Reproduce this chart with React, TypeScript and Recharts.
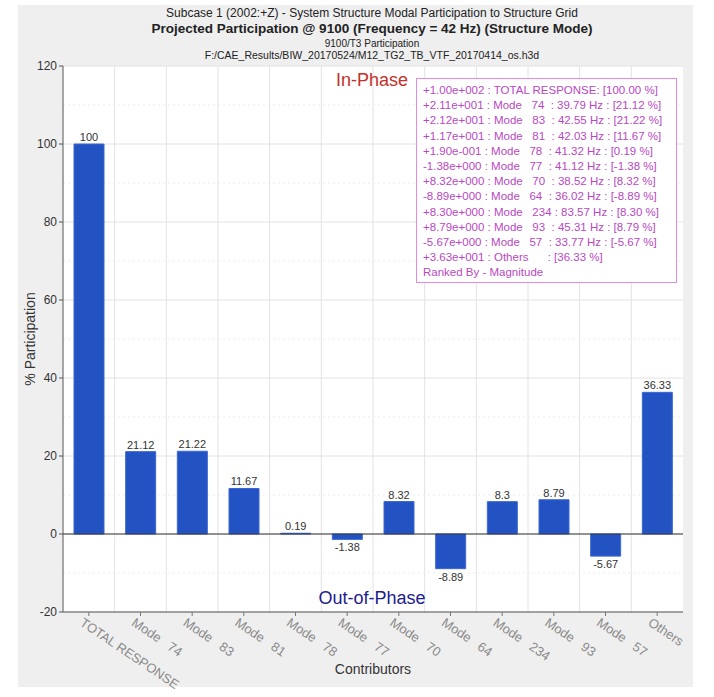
import React from "react";
import {
  BarChart,
  Bar,
  XAxis,
  YAxis,
  CartesianGrid,
  ReferenceLine,
  LabelList,
} from "recharts";

const modes = [74, 83, 81, 78, 77, 70, 64, 234, 93, 57];
const frequencies = [39.79, 42.55, 42.03, 41.32, 41.12, 38.52, 36.02, 83.57, 45.31, 33.77];
const participation = [100, 21.12, 21.22, 11.67, 0.19, -1.38, 8.32, -8.89, 8.3, 8.79, -5.67, 36.33];
const categories = ["TOTAL RESPONSE", ...modes.map((m) => `Mode   ${m}`), "Others"];
const yTicks = [-20, 0, 20, 40, 60, 80, 100, 120];
const minorTicks = [-10, 10, 30, 50, 70, 90, 110];
const Y_MIN = -20;
const Y_MAX = 120;

const titleLines = [
  "Subcase 1 (2002:+Z) - System Structure Modal Participation to Structure Grid",
  "Projected Participation @ 9100 (Frequency = 42 Hz) (Structure Mode)",
  "9100/T3 Participation",
  "F:/CAE_Results/BIW_20170524/M12_TG2_TB_VTF_20170414_os.h3d",
];

const data = categories.map((name, i) => ({ name, value: participation[i] }));

// +2.11e+001 style
const sci = (v: number) => {
  const sign = v < 0 ? "-" : "+";
  const a = Math.abs(v);
  let e = Math.floor(Math.log10(a));
  let m = a / Math.pow(10, e);
  if (m.toFixed(2) === "10.00") {
    m /= 10;
    e++;
  }
  return `${sign}${m.toFixed(2)}e${e < 0 ? "-" : "+"}${String(Math.abs(e)).padStart(3, "0")}`;
};

const legendLines = [
  `${sci(participation[0])} : TOTAL RESPONSE: [${participation[0].toFixed(2)} %]`,
  ...modes.map(
    (m, i) =>
      `${sci(participation[i + 1])} : Mode   ${String(m).padEnd(3, " ")} : ${frequencies[i].toFixed(2)} Hz : [${participation[i + 1].toFixed(2)} %]`
  ),
  `${sci(participation[11])} : Others      : [${participation[11].toFixed(2)} %]`,
  "Ranked By - Magnitude",
];

const FONT = "'Liberation Sans', Arial, sans-serif";

const XTick = (props: any) => {
  const { x, y, payload } = props;
  return (
    <g transform={`translate(${x - 4},${y - 2})`}>
      <text
        x={0}
        y={0}
        dy="0.8em"
        transform="rotate(34)"
        textAnchor="start"
        fill="#8a8a8a"
        fontSize={13}
        fontFamily={FONT}
        style={{ whiteSpace: "pre" }}
      >
        {payload.value}
      </text>
    </g>
  );
};

const ValueLabel = (props: any) => {
  const { x, y, width, height, value } = props;
  const top = Math.min(y, y + height);
  const bottom = Math.max(y, y + height);
  return (
    <text
      x={x + width / 2}
      y={value >= 0 ? top - 3 : bottom + 12}
      textAnchor="middle"
      fill="#333"
      fontSize={11}
      fontFamily={FONT}
    >
      {String(value)}
    </text>
  );
};

const App = () => {
  return (
    <div style={{ position: "absolute", left: 0, top: 0, width: 714, height: 697, fontFamily: FONT }}>
      <div style={{ position: "absolute", left: 18, top: 5, width: 675, height: 682, background: "#efefef" }} />
      {titleLines.map((t, i) => (
        <div
          key={i}
          style={{
            position: "absolute",
            left: 0,
            width: 744,
            top: [6, 21, 38, 49][i],
            textAlign: "center",
            fontSize: [12, 13.5, 10, 10.5][i],
            fontWeight: i === 1 ? "bold" : "normal",
            color: "#222",
            whiteSpace: "nowrap",
          }}
        >
          {t}
        </div>
      ))}
      <div style={{ position: "absolute", left: 0, top: 0 }}>
        <BarChart
          width={714}
          height={697}
          data={data}
          margin={{ top: 66, right: 31, left: 23, bottom: 15 }}
        >
          <CartesianGrid
            fill="#ffffff"
            stroke="#e2e2e2"
            horizontal={true}
            verticalCoordinatesGenerator={({ offset }: any) =>
              categories.slice(1).map((_, i) => offset.left + ((i + 1) * offset.width) / categories.length)
            }
          />
          <CartesianGrid
            stroke="#ebebeb"
            strokeDasharray="2 3"
            vertical={false}
            horizontalCoordinatesGenerator={({ offset }: any) =>
              minorTicks.map((v) => offset.top + ((Y_MAX - v) / (Y_MAX - Y_MIN)) * offset.height)
            }
          />
          <XAxis
            dataKey="name"
            interval={0}
            height={70}
            tick={<XTick />}
            tickSize={4}
            tickLine={{ stroke: "#777" }}
            axisLine={{ stroke: "#555" }}
            label={{
              value: "Contributors",
              position: "insideBottom",
              offset: 8,
              fill: "#333",
              fontSize: 14,
              fontFamily: FONT,
            }}
          />
          <XAxis
            xAxisId="top"
            dataKey="name"
            orientation="top"
            height={0}
            tick={false}
            tickLine={false}
            axisLine={{ stroke: "#555" }}
          />
          <YAxis
            domain={[Y_MIN, Y_MAX]}
            ticks={yTicks}
            width={40}
            tickSize={4}
            tick={{ fill: "#333", fontSize: 12, fontFamily: FONT }}
            tickLine={{ stroke: "#555" }}
            axisLine={{ stroke: "#555" }}
            label={{
              value: "% Participation",
              angle: -90,
              position: "insideLeft",
              offset: 7,
              style: { textAnchor: "middle" },
              fill: "#333",
              fontSize: 14,
              fontFamily: FONT,
            }}
          />
          <YAxis
            yAxisId="right"
            orientation="right"
            domain={[Y_MIN, Y_MAX]}
            width={0}
            tick={false}
            tickLine={false}
            axisLine={{ stroke: "#555" }}
          />
          <ReferenceLine y={0} stroke="#333" />
          <Bar dataKey="value" fill="#2352c3" stroke="#3b67d4" barSize={30} isAnimationActive={false}>
            <LabelList dataKey="value" content={<ValueLabel />} />
          </Bar>
        </BarChart>
      </div>
      <div
        style={{
          position: "absolute",
          left: 0,
          width: 744,
          top: 70,
          textAlign: "center",
          fontSize: 18,
          color: "#c4302b",
        }}
      >
        In-Phase
      </div>
      <div
        style={{
          position: "absolute",
          left: 0,
          width: 744,
          top: 588,
          textAlign: "center",
          fontSize: 18,
          color: "#1d1d8e",
        }}
      >
        Out-of-Phase
      </div>
      <div
        style={{
          position: "absolute",
          left: 416,
          top: 78,
          width: 261,
          height: 205,
          border: "1px solid #e48ae4",
          background: "#ffffff",
          color: "#b948c2",
          fontSize: 11.5,
          lineHeight: "15.2px",
          padding: "4px 0 0 6px",
          boxSizing: "border-box",
          whiteSpace: "pre",
        }}
      >
        {legendLines.map((l, i) => (
          <div key={i}>{l}</div>
        ))}
      </div>
    </div>
  );
};

export default App;
